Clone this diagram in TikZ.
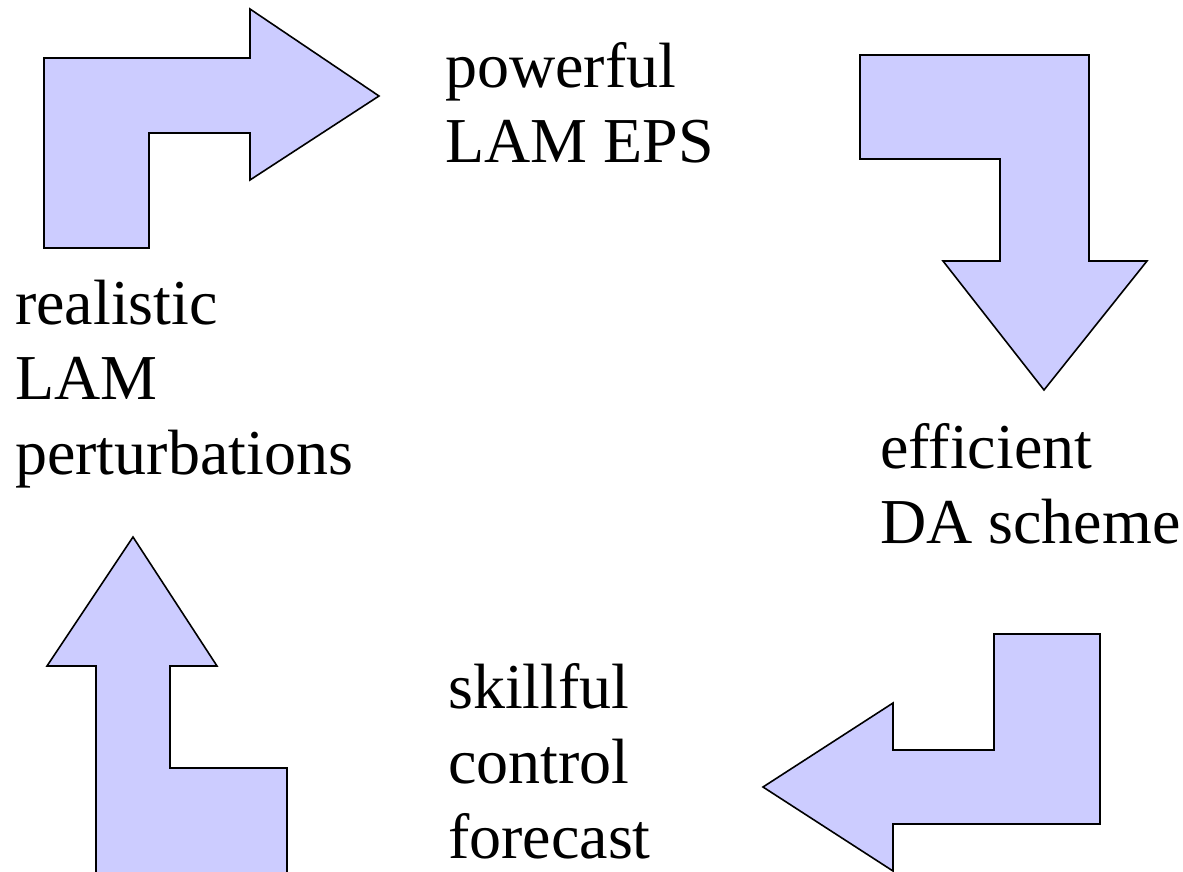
\documentclass[tikz,border=0pt]{standalone}
\usepackage{fontspec}
\setmainfont{Liberation Serif}
\usepackage{xcolor}
\usetikzlibrary{calc}

\definecolor{lavender}{RGB}{204,204,255}

\tikzset{
	bentarrow/.style={fill=lavender,draw=black,line width=1.6pt,line join=miter},
	cyclabel/.style={anchor=base west,inner sep=0pt,align=left,font=\fontsize{64}{75}\selectfont}
}

\begin{document}
\begin{tikzpicture}[x=1pt,y=-1pt]
		\clip (0,0) rectangle (1183,872);
		
		% arrow top left, pointing right
		\draw[bentarrow] (44,248) -- (44,58) -- (250,58) -- (250,9) -- (379,96)
			-- (250,180) -- (250,133) -- (149,133) -- (149,248) -- cycle;
		% (base anchor sits on the last line)
		\node[cyclabel] (power) at (445,162) {powerful\\LAM EPS};
		
		% arrow top right, pointing down
		\draw[bentarrow] (860,55) -- (1089,55) -- (1089,261) -- (1147,261) -- (1044,390)
			-- (943,261) -- (1000,261) -- (1000,159) -- (860,159) -- cycle;
		\node[cyclabel] (da) at (880,543) {efficient\\DA scheme};
		
		% arrow bottom right, pointing left
		\draw[bentarrow] (994,634) -- (1100,634) -- (1100,824) -- (893,824) -- (893,871)
			-- (763,787) -- (893,703) -- (893,750) -- (994,750) -- cycle;
		\node[cyclabel] (fc) at (448,858) {skillful\\control\\forecast};
		
		% arrow bottom left, pointing up
		\draw[bentarrow] (133,537) -- (217,666) -- (170,666) -- (170,768) -- (287,768)
			-- (287,900) -- (96,900) -- (96,666) -- (47,666) -- cycle;
		\node[cyclabel] (pert) at (15,474) {realistic\\LAM\\perturbations};
\end{tikzpicture}
\end{document}
